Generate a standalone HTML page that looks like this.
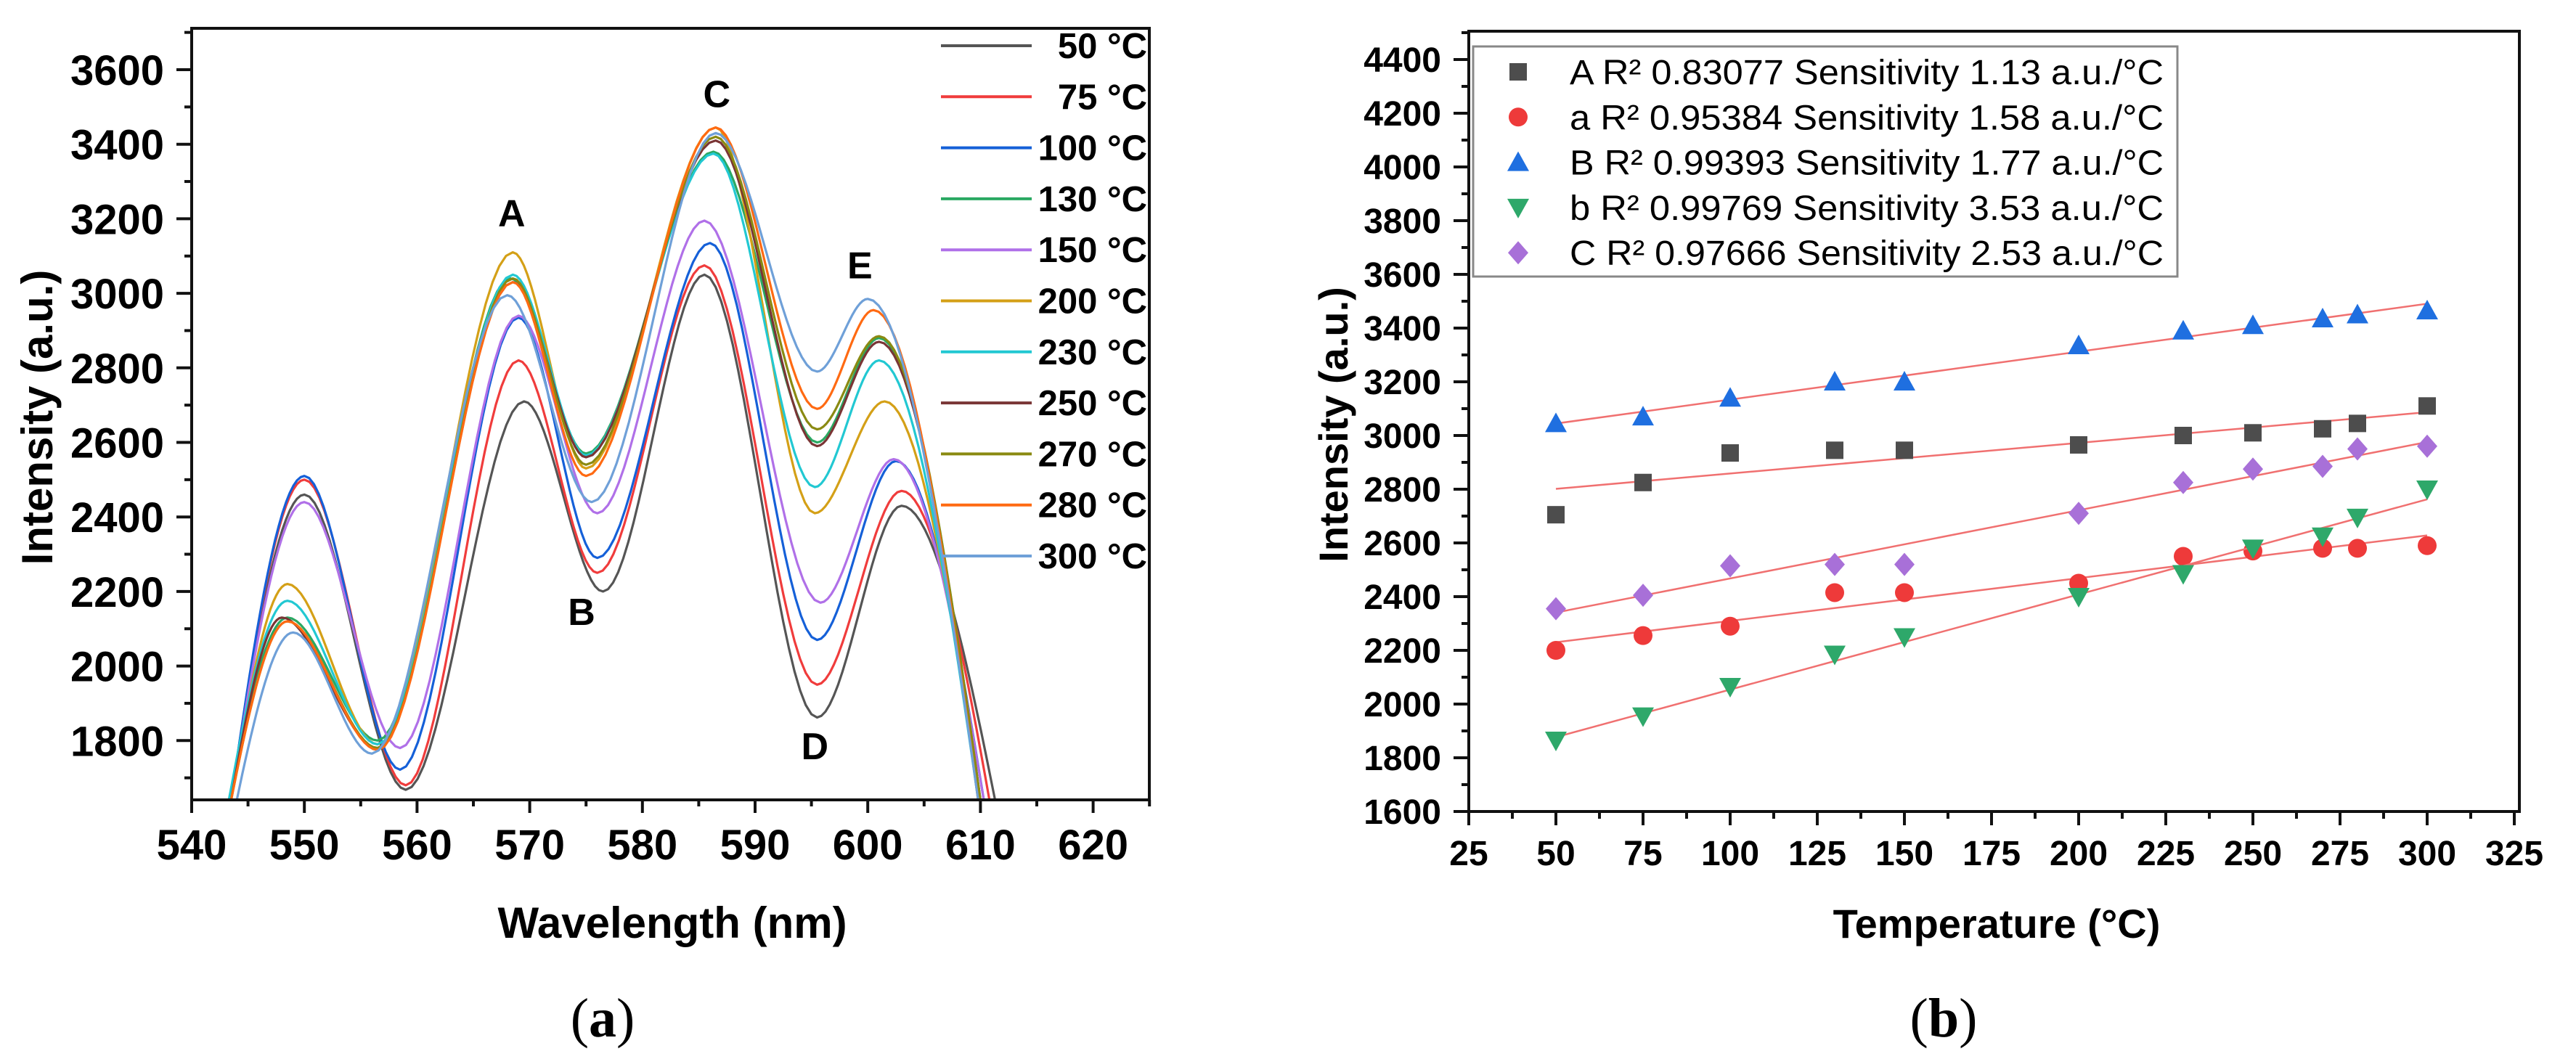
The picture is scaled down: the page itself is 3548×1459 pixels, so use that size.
<!DOCTYPE html>
<html><head><meta charset="utf-8"><style>
html,body{margin:0;padding:0;background:#fff;}
svg{display:block;}
text{font-family:"Liberation Sans",Arial,sans-serif;}
</style></head><body>
<svg id="fig" width="3548" height="1459" viewBox="0 0 3548 1459" xmlns="http://www.w3.org/2000/svg">
<defs>
<clipPath id="clipA"><rect x="264" y="39" width="1319" height="1063"/></clipPath>
</defs>
<g id="chartA"></g>
<g id="chartB"></g>
<text x="830" y="1428" font-size="76" text-anchor="middle" style="font-family:'Liberation Serif',serif">(<tspan font-weight="bold">a</tspan>)</text>
<text x="2677" y="1428" font-size="76" text-anchor="middle" style="font-family:'Liberation Serif',serif">(<tspan font-weight="bold">b</tspan>)</text>
</svg>
<script>
// ---------- Chart A data ----------
const seriesLabels = ["50 °C","75 °C","100 °C","130 °C","150 °C","200 °C","230 °C","250 °C","270 °C","280 °C","300 °C"];
const s50  = [[543.5,1640],[550,2460],[559,1668],[569.5,2710],[576.5,2200],[585.5,3050],[595.5,1862],[603,2430],[611.3,1640]];
const s75  = [[543.5,1640],[550,2500],[559,1680],[569,2820],[576,2250],[585.5,3075],[595.5,1950],[603,2470],[610.8,1640]];
const s100 = [[543.5,1640],[550,2510],[558.5,1722],[569,2935],[576,2290],[586,3135],[595.5,2070],[602.5,2550],[610.3,1640]];
const s130 = [[543.3,1640],[548.5,2130],[556.5,1800],[568.3,3040],[575,2570],[586.3,3380],[595.5,2600],[601,2880],[610,1640]];
const s150 = [[543.5,1640],[550,2440],[558.5,1780],[569,2940],[576,2410],[585.5,3195],[595.8,2170],[602.3,2555],[610.3,1640]];
const s200 = [[543.5,1640],[548.5,2220],[556.5,1790],[568.5,3110],[575,2530],[586.5,3445],[595.3,2410],[601.5,2710],[610,1640]];
const s230 = [[543.3,1640],[548.5,2175],[556.5,1790],[568.5,3050],[575,2565],[586.3,3375],[595.3,2480],[601,2820],[609.8,1640]];
const s250 = [[543.5,1640],[548,2130],[556.5,1780],[568.5,3030],[575,2560],[586.5,3410],[595.5,2590],[601,2870],[610,1640]];
const s270 = [[543.5,1640],[548.5,2120],[556.5,1780],[568.5,3040],[575,2540],[586.5,3420],[595.5,2635],[601,2885],[610,1640]];
const s280 = [[543.5,1640],[548.5,2120],[556.5,1775],[568.5,3030],[575,2510],[586.5,3445],[595.5,2690],[600.5,2955],[609.8,1640]];
const s300 = [[544,1640],[549,2090],[556,1765],[568,2995],[575.5,2440],[586.5,3430],[595.5,2790],[600,2985],[609.8,1640]];
const xTicksA = [540,550,560,570,580,590,600,610,620];
const yTicksA = [1800,2000,2200,2400,2600,2800,3000,3200,3400,3600];
const peakLabels = ["A","B","C","D","E"];
const peakPos = [[568.4,3180],[574.6,2110],[586.6,3500],[595.3,1750],[599.3,3040]];

// ---------- Chart B data ----------
const temps = [50,75,100,130,150,200,230,250,270,280,300];
const serA = [2705,2825,2935,2945,2945,2965,3000,3010,3025,3045,3110];
const sera = [2200,2255,2290,2415,2415,2450,2550,2570,2580,2580,2590];
const serB = [3045,3070,3140,3200,3200,3335,3390,3410,3435,3450,3465];
const serb = [1865,1955,2065,2185,2250,2400,2485,2580,2625,2695,2800];
const serC = [2355,2405,2515,2520,2520,2710,2825,2875,2885,2950,2960];
const legendB = ["A R² 0.83077 Sensitivity 1.13 a.u./°C","a R² 0.95384 Sensitivity 1.58 a.u./°C","B R² 0.99393 Sensitivity 1.77 a.u./°C","b R² 0.99769 Sensitivity 3.53 a.u./°C","C R² 0.97666 Sensitivity 2.53 a.u./°C"];
const xTicksB = [25,50,75,100,125,150,175,200,225,250,275,300,325];
const yTicksB = [1600,1800,2000,2200,2400,2600,2800,3000,3200,3400,3600,3800,4000,4200,4400];

const NS="http://www.w3.org/2000/svg";
function mk(tag,attrs,parent){const e=document.createElementNS(NS,tag);for(const k in attrs)e.setAttribute(k,attrs[k]);parent.appendChild(e);return e;}

// ===== Chart A =====
const gA=document.getElementById('chartA');
const xA=v=>264+(v-540)*15.52;
const yA=v=>96+(3600-v)*0.5135;
const colorsA=["#555555","#f03c3c","#1560d8","#2aa862","#b070e8","#d4a017","#22c8d2","#7a3535","#8a8a12","#ff6a12","#6fa0d8"];
const allS=[s50,s75,s100,s130,s150,s200,s230,s250,s270,s280,s300];
function hermitePath(pts){
  const n=pts.length;const m=new Array(n).fill(0);
  m[0]=1.6*(pts[1][1]-pts[0][1])/(pts[1][0]-pts[0][0]);
  m[n-1]=1.6*(pts[n-1][1]-pts[n-2][1])/(pts[n-1][0]-pts[n-2][0]);
  let d="";
  for(let i=0;i<n-1;i++){
    const [x0,y0]=pts[i],[x1,y1]=pts[i+1];const h=x1-x0;
    for(let k=0;k<=20;k++){
      const t=k/20,t2=t*t,t3=t2*t;
      const y=(2*t3-3*t2+1)*y0+(t3-2*t2+t)*h*m[i]+(-2*t3+3*t2)*y1+(t3-t2)*h*m[i+1];
      const x=x0+t*h;
      d+=(d?"L":"M")+xA(x).toFixed(1)+" "+yA(y).toFixed(1);
    }
  }
  return d;
}
const curveG=mk('g',{'clip-path':'url(#clipA)'},gA);


allS.forEach((s,i)=>{
  const p=mk('path',{d:hermitePath(s),fill:'none',stroke:colorsA[i],'stroke-width':3.2,'stroke-linejoin':'round'},curveG);
  
  
});
const frA=mk('rect',{x:264,y:39,width:1319,height:1063,fill:'none',stroke:'#111','stroke-width':4},gA);


for(let v=540;v<=625;v+=5){
  const major=v%10===0;
  mk('line',{x1:xA(v),x2:xA(v),y1:1102,y2:major?1120:1111,stroke:'#111','stroke-width':4},gA);
}
xTicksA.forEach(v=>{
  const t=mk('text',{x:xA(v),y:1184,'font-size':58,'font-weight':'bold','text-anchor':'middle'},gA);
  t.textContent=v;
  
  
});
for(let v=1700;v<=3700;v+=100){
  const major=v%200===0;
  mk('line',{x1:264,x2:major?243:254,y1:yA(v),y2:yA(v),stroke:'#111','stroke-width':4},gA);
}
yTicksA.forEach(v=>{
  const t=mk('text',{x:226,y:yA(v)+21,'font-size':58,'font-weight':'bold','text-anchor':'end'},gA);
  t.textContent=v;
  
  
});
const xtA=mk('text',{x:926,y:1292,'font-size':60,'font-weight':'bold','text-anchor':'middle'},gA);
xtA.textContent="Wavelength (nm)";


const ytA=mk('text',{x:0,y:0,'font-size':60,'font-weight':'bold','text-anchor':'middle',transform:'translate(72,575) rotate(-90)'},gA);
ytA.textContent="Intensity (a.u.)";


peakLabels.forEach((l,i)=>{
  const t=mk('text',{x:xA(peakPos[i][0]),y:yA(peakPos[i][1]),'font-size':52,'font-weight':'bold','text-anchor':'middle'},gA);
  t.textContent=l;
  
  
});
seriesLabels.forEach((l,i)=>{
  const y=63+i*70.3;
  const g=mk('g',{},gA);
  
  
  mk('line',{x1:1296,x2:1421,y1:y,y2:y,stroke:colorsA[i],'stroke-width':4},g);
  const t=mk('text',{x:1580,y:y+17,'font-size':49,'font-weight':'bold','text-anchor':'end'},g);
  t.textContent=l;
});

// ===== Chart B =====
const gB=document.getElementById('chartB');
const xB=v=>2023+(v-25)*4.8;
const yB=v=>1118-(v-1600)*0.37;
const frB=mk('rect',{x:2023,y:43,width:1447,height:1075,fill:'none',stroke:'#111','stroke-width':4},gB);


for(let v=25;v<=325;v+=12.5){
  const major=Math.abs(v%25)<1e-6;
  mk('line',{x1:xB(v),x2:xB(v),y1:1118,y2:major?1137:1128,stroke:'#111','stroke-width':4},gB);
}
xTicksB.forEach(v=>{
  const t=mk('text',{x:xB(v),y:1192,'font-size':48,'font-weight':'bold','text-anchor':'middle'},gB);
  t.textContent=v;
  
  
});
for(let v=1600;v<=4500;v+=100){
  const major=v%200===0;
  mk('line',{x1:2023,x2:major?2002:2013,y1:yB(v),y2:yB(v),stroke:'#111','stroke-width':4},gB);
}
yTicksB.forEach(v=>{
  const t=mk('text',{x:1985,y:yB(v)+17,'font-size':48,'font-weight':'bold','text-anchor':'end'},gB);
  t.textContent=v;
  
  
});
const xtB=mk('text',{x:2750,y:1292,'font-size':56,'font-weight':'bold','text-anchor':'middle'},gB);
xtB.textContent="Temperature (°C)";


const ytB=mk('text',{x:0,y:0,'font-size':56,'font-weight':'bold','text-anchor':'middle',transform:'translate(1856,585) rotate(-90)'},gB);
ytB.textContent="Intensity (a.u.)";



const seriesB=[serA,sera,serB,serb,serC];
const colorsB=["#4d4d4d","#ee3a3a","#1f6fe0","#2ea86a","#a870d8"];
const shapes=["square","circle","up","down","diamond"];
function marker(shape,cx,cy,color,parent){
  if(shape==="square") return mk('rect',{x:cx-12,y:cy-12,width:24,height:24,fill:color},parent);
  if(shape==="circle") return mk('ellipse',{cx:cx,cy:cy,rx:13,ry:13,fill:color},parent);
  if(shape==="up") return mk('polygon',{points:`${cx},${cy-15} ${cx+15},${cy+12} ${cx-15},${cy+12}`,fill:color},parent);
  if(shape==="down") return mk('polygon',{points:`${cx},${cy+15} ${cx+15},${cy-12} ${cx-15},${cy-12}`,fill:color},parent);
  return mk('polygon',{points:`${cx},${cy-16} ${cx+14},${cy} ${cx},${cy+16} ${cx-14},${cy}`,fill:color},parent);
}
function fit(xs,ys){
  const n=xs.length;let sx=0,sy=0,sxx=0,sxy=0;
  for(let i=0;i<n;i++){sx+=xs[i];sy+=ys[i];sxx+=xs[i]*xs[i];sxy+=xs[i]*ys[i];}
  const b=(n*sxy-sx*sy)/(n*sxx-sx*sx);const a=(sy-b*sx)/n;return [a,b];
}
seriesB.forEach((ys,si)=>{
  const g=mk('g',{},gB);
  
  
  const [a,b]=fit(temps,ys);
  const x0=temps[0],x1=temps[temps.length-1];
  const ln=mk('line',{x1:xB(x0),y1:yB(a+b*x0),x2:xB(x1),y2:yB(a+b*x1),stroke:'#f07070','stroke-width':2.5},g);
  
  
  temps.forEach((t,i)=>{
    const m=marker(shapes[si],xB(t),yB(ys[i]),colorsB[si],g);
    
    
  });
});
const lgB=mk('g',{},gB);


mk('rect',{x:2029,y:64,width:970,height:317,fill:'#fff',stroke:'#888','stroke-width':3},lgB);
legendB.forEach((l,i)=>{
  const y=99+i*62.3;
  const g=mk('g',{},lgB);
  
  
  marker(shapes[i],2091,y,colorsB[i],g);
  const t=mk('text',{x:2162,y:y+17,'font-size':48,textLength:818,lengthAdjust:'spacingAndGlyphs'},g);
  t.textContent=l;
});
</script>
</body></html>
